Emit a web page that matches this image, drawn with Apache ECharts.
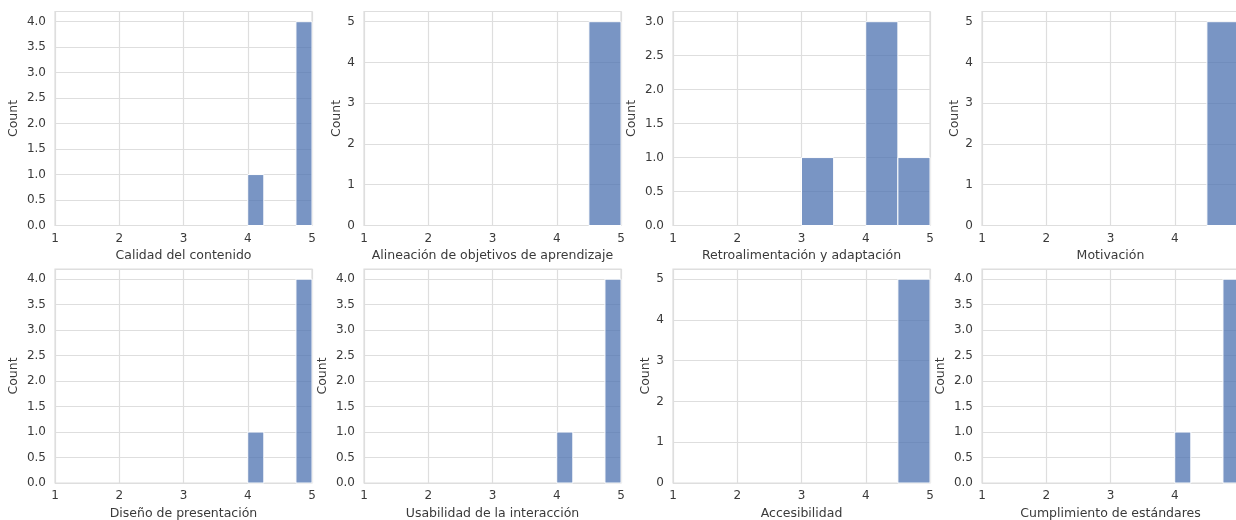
<!DOCTYPE html>
<html>
<head>
<meta charset="utf-8">
<script src="https://cdn.jsdelivr.net/npm/echarts@6/dist/echarts.min.js"></script>
<style>
  html, body { margin: 0; padding: 0; background: #fff; }
  #main { width: 1236px; height: 520px; }
</style>
</head>
<body>
<div id="main"></div>
<script>
// panel titles (x-axis names), row by row
const titles = [
  'Calidad del contenido',
  'Alineación de objetivos de aprendizaje',
  'Retroalimentación y adaptación',
  'Motivación',
  'Diseño de presentación',
  'Usabilidad de la interacción',
  'Accesibilidad',
  'Cumplimiento de estándares'
]
// histogram bins: left edge, width and count of each bar
const binStarts = [[4, 4.75], [4.5], [3, 4, 4.5], [4.5], [4, 4.75], [4, 4.75], [4.5], [4, 4.75]]
const binWidths = [0.25, 0.5, 0.5, 0.5, 0.25, 0.25, 0.5, 0.25]
const counts = [[1, 4], [5], [1, 3, 1], [5], [1, 4], [1, 4], [5], [1, 4]]
// y axis top and tick step per panel
const yMax = [4.2, 5.25, 3.15, 5.25, 4.2, 4.2, 5.25, 4.2]
const yStep = [0.5, 1, 0.5, 1, 0.5, 0.5, 1, 0.5]
const xTicks = [1, 2, 3, 4, 5]

const colLeft = [55, 364, 673, 982]
const rowTop = [11.5, 269]
const plotW = 257
const plotH = 214
const textColor = '#3a3a3a'
const lineColor = '#dedede'
const font = 'DejaVu Sans'

const grids = []
const xAxes = []
const yAxes = []
const series = []

titles.forEach((title, i) => {
  const row = Math.floor(i / 4)
  const col = i % 4
  grids.push({
    left: colLeft[col],
    top: rowTop[row],
    width: plotW,
    height: plotH,
    outerBoundsMode: 'none',
    containLabel: false,
    show: true,
    borderColor: lineColor,
    borderWidth: 1.2,
    backgroundColor: '#fff'
  })
  xAxes.push({
    type: 'value',
    gridIndex: i,
    min: xTicks[0],
    max: xTicks[xTicks.length - 1],
    interval: 1,
    name: title,
    nameLocation: 'middle',
    nameGap: 24,
    nameTextStyle: { color: textColor, fontSize: 12.5, fontFamily: font },
    axisLine: { show: false },
    axisTick: { show: false },
    axisLabel: { color: textColor, fontSize: 12, fontFamily: font, margin: 7 },
    splitLine: { show: true, lineStyle: { color: lineColor, width: 1.2 } }
  })
  const dec = yStep[i] < 1
  yAxes.push({
    type: 'value',
    gridIndex: i,
    min: 0,
    max: yMax[i],
    interval: yStep[i],
    name: 'Count',
    nameLocation: 'middle',
    nameGap: dec ? 35 : 21,
    nameTextStyle: { color: textColor, fontSize: 12.5, fontFamily: font },
    axisLine: { show: false },
    axisTick: { show: false },
    axisLabel: {
      color: textColor, fontSize: 12, fontFamily: font, margin: 9,
      showMaxLabel: false,
      formatter: v => dec ? v.toFixed(1) : String(v)
    },
    splitLine: { show: true, lineStyle: { color: lineColor, width: 1.2 } }
  })
  series.push({
    type: 'custom',
    xAxisIndex: i,
    yAxisIndex: i,
    data: binStarts[i].map((s, k) => [s, s + binWidths[i], counts[i][k]]),
    renderItem: (params, api) => {
      const p0 = api.coord([api.value(0), api.value(2)])
      const p1 = api.coord([api.value(1), 0])
      return {
        type: 'rect',
        shape: { x: p0[0], y: p0[1], width: p1[0] - p0[0], height: p1[1] - p0[1] },
        style: { fill: 'rgba(76,114,176,0.75)', stroke: '#fff', lineWidth: 1 }
      }
    }
  })
})

const chart = echarts.init(document.getElementById('main'), null, { renderer: 'canvas' })
chart.setOption({
  animation: false,
  backgroundColor: '#fff',
  grid: grids,
  xAxis: xAxes,
  yAxis: yAxes,
  series: series
})
</script>
</body>
</html>
